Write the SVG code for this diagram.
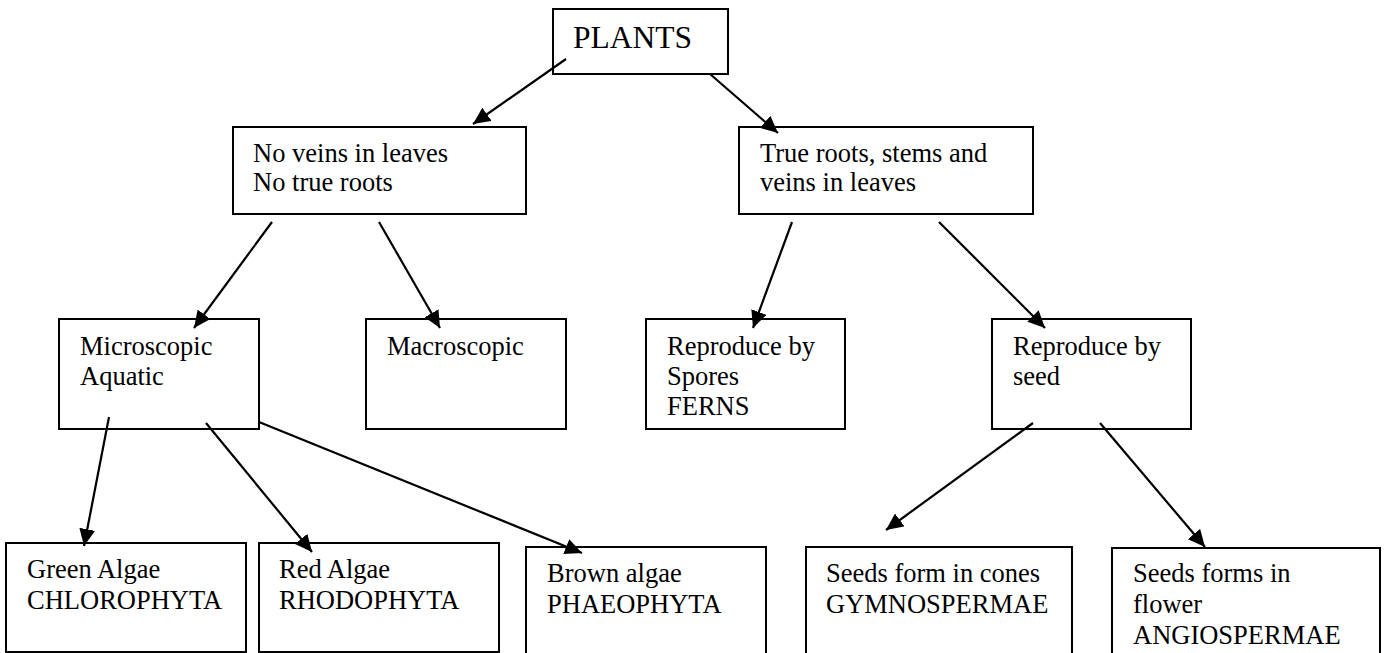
<svg xmlns="http://www.w3.org/2000/svg" width="1384" height="653" viewBox="0 0 1384 653">
<style>
.box{fill:#fff;stroke:#000;stroke-width:2}
.t{font-family:"Liberation Serif","Times New Roman",serif;font-size:26.5px;fill:#000}
.big{font-size:31.5px}
.c{stroke:#000;stroke-width:2.2;fill:none;marker-end:url(#ah)}
</style>
<defs>
<marker id="ah" markerUnits="userSpaceOnUse" markerWidth="18" markerHeight="16" refX="17" refY="8" orient="auto">
<path d="M0,0 L17,8 L0,16 Z" fill="#000"/>
</marker>
</defs>
<rect width="1384" height="653" fill="#fff"/>
<g id="n-plants"><rect class="box" x="553" y="9" width="175" height="65"/><text class="t big" x="573" y="48">PLANTS</text></g>
<g id="n-noveins"><rect class="box" x="233" y="127" width="293" height="87"/><text class="t" x="253" y="162">No veins in leaves<tspan x="253" y="191">No true roots</tspan></text></g>
<g id="n-trueroots"><rect class="box" x="739" y="127" width="294" height="87"/><text class="t" x="760" y="162">True roots, stems and<tspan x="760" y="191">veins in leaves</tspan></text></g>
<g id="n-micro"><rect class="box" x="59" y="319" width="200" height="110"/><text class="t" x="80" y="355">Microscopic<tspan x="80" y="385">Aquatic</tspan></text></g>
<g id="n-macro"><rect class="box" x="366" y="319" width="200" height="110"/><text class="t" x="387" y="355">Macroscopic</text></g>
<g id="n-spores"><rect class="box" x="646" y="319" width="199" height="110"/><text class="t" x="667" y="355">Reproduce by<tspan x="667" y="385">Spores</tspan><tspan x="667" y="415">FERNS</tspan></text></g>
<g id="n-seed"><rect class="box" x="992" y="319" width="199" height="110"/><text class="t" x="1013" y="355">Reproduce by<tspan x="1013" y="385">seed</tspan></text></g>
<g id="n-green"><rect class="box" x="6" y="543" width="240" height="109"/><text class="t" x="27" y="578">Green Algae<tspan x="27" y="609">CHLOROPHYTA</tspan></text></g>
<g id="n-red"><rect class="box" x="259" y="543" width="240" height="109"/><text class="t" x="279" y="578">Red Algae<tspan x="279" y="609">RHODOPHYTA</tspan></text></g>
<g id="n-brown"><rect class="box" x="526" y="547" width="240" height="120"/><text class="t" x="547" y="582">Brown algae<tspan x="547" y="613">PHAEOPHYTA</tspan></text></g>
<g id="n-cones"><rect class="box" x="806" y="547" width="266" height="120"/><text class="t" x="826" y="582">Seeds form in cones<tspan x="826" y="613">GYMNOSPERMAE</tspan></text></g>
<g id="n-flower"><rect class="box" x="1112" y="548" width="268" height="120"/><text class="t" x="1133" y="582">Seeds forms in<tspan x="1133" y="613">flower</tspan><tspan x="1133" y="644">ANGIOSPERMAE</tspan></text></g>
<g id="connectors">
<line class="c" x1="566" y1="59" x2="473" y2="124"/>
<line class="c" x1="710" y1="74" x2="778" y2="133"/>
<line class="c" x1="272" y1="222" x2="194" y2="328"/>
<line class="c" x1="379" y1="222" x2="440" y2="328"/>
<line class="c" x1="792" y1="222" x2="753" y2="328"/>
<line class="c" x1="939" y1="222" x2="1045" y2="328"/>
<line class="c" x1="109" y1="417" x2="84" y2="546"/>
<line class="c" x1="206" y1="423" x2="312" y2="552"/>
<line class="c" x1="259" y1="422" x2="582" y2="553"/>
<line class="c" x1="1033" y1="423" x2="886" y2="530"/>
<line class="c" x1="1100" y1="423" x2="1205" y2="547"/>
</g>
</svg>
